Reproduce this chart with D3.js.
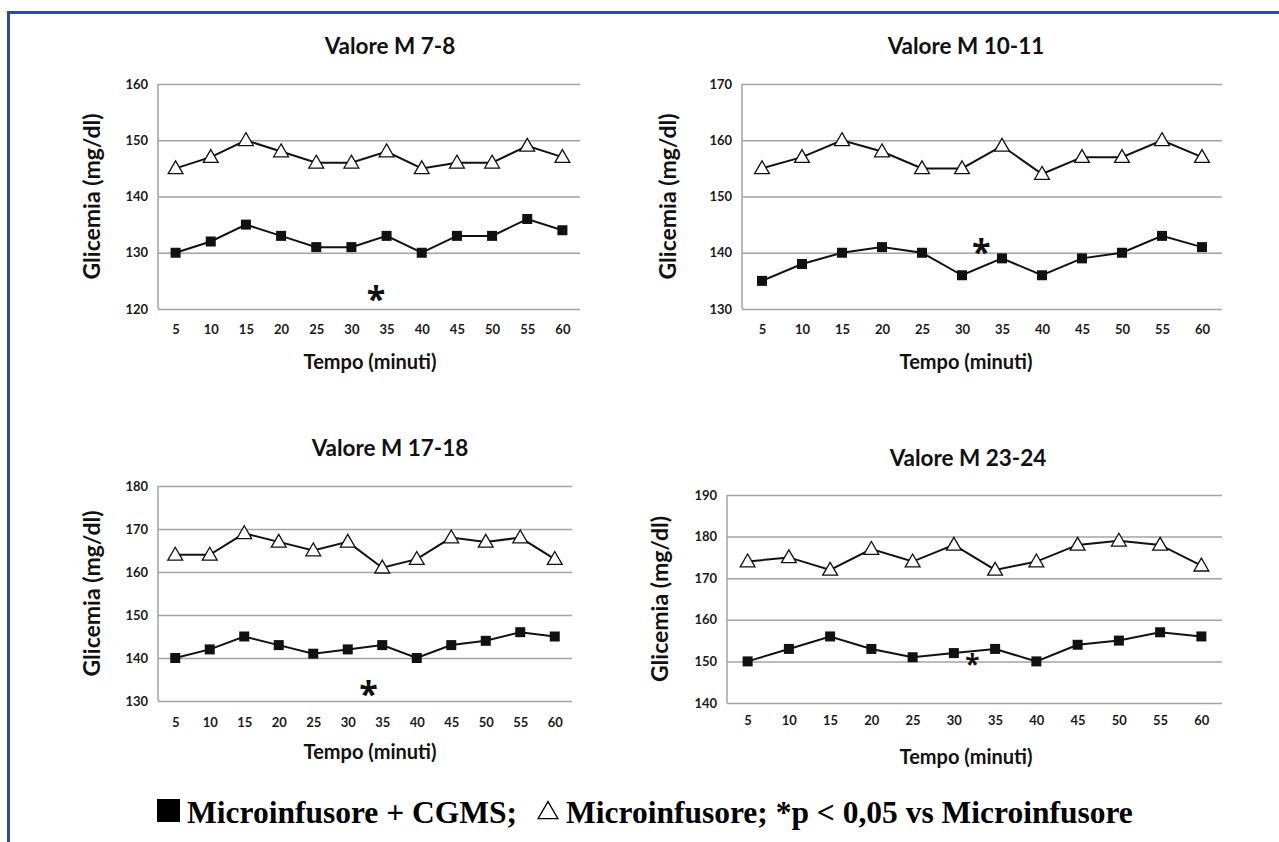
<!DOCTYPE html>
<html>
<head>
<meta charset="utf-8">
<script src="https://cdn.jsdelivr.net/npm/d3@7"></script>
<style>
  html, body { margin: 0; padding: 0; background: #fff; }
  svg { display: block; }
</style>
</head>
<body>
<svg id="chart" width="1279" height="842"></svg>
<script>
// ---------- data ----------
const times = [5, 10, 15, 20, 25, 30, 35, 40, 45, 50, 55, 60];
const panelTitles = ["Valore M 7-8", "Valore M 10-11", "Valore M 17-18", "Valore M 23-24"];
const cgmsM7_8   = [130, 132, 135, 133, 131, 131, 133, 130, 133, 133, 136, 134];
const microM7_8  = [145, 147, 150, 148, 146, 146, 148, 145, 146, 146, 149, 147];
const cgmsM10_11  = [135, 138, 140, 141, 140, 136, 139, 136, 139, 140, 143, 141];
const microM10_11 = [155, 157, 160, 158, 155, 155, 159, 154, 157, 157, 160, 157];
const cgmsM17_18  = [140, 142, 145, 143, 141, 142, 143, 140, 143, 144, 146, 145];
const microM17_18 = [164, 164, 169, 167, 165, 167, 161, 163, 168, 167, 168, 163];
const cgmsM23_24  = [150, 153, 156, 153, 151, 152, 153, 150, 154, 155, 157, 156];
const microM23_24 = [174, 175, 172, 177, 174, 178, 172, 174, 178, 179, 178, 173];
const yDomains = [[120, 160], [130, 170], [130, 180], [140, 190]];
const yTicks = [[120, 130, 140, 150, 160], [130, 140, 150, 160, 170],
                [130, 140, 150, 160, 170, 180], [140, 150, 160, 170, 180, 190]];
// significance marker: position along time index (fractional) and value
const starIndex = [5.7, 5.48, 5.6, 5.45];
const starValue = [123.0, 141.3, 133.3, 150.4];
const xTitle = "Tempo (minuti)";
const yTitle = "Glicemia (mg/dl)";
const legendA = "Microinfusore + CGMS;";
const legendB = "Microinfusore; *p < 0,05 vs Microinfusore";

const cgmsSeries = [cgmsM7_8, cgmsM10_11, cgmsM17_18, cgmsM23_24];
const microSeries = [microM7_8, microM10_11, microM17_18, microM23_24];

// ---------- layout ----------
const layouts = [
  { left: 158, right: 580, top: 84, bottom: 309, titleX: 390, titleY: 54, xTitleX: 370, xTitleY: 369, yTitleX: 92, tickY: 334, starSize: 34 },
  { left: 742, right: 1222, top: 84, bottom: 309, titleX: 966, titleY: 54, xTitleX: 966, xTitleY: 369, yTitleX: 668, tickY: 334, starSize: 34 },
  { left: 158, right: 572, top: 486, bottom: 701, titleX: 390, titleY: 456, xTitleX: 370, xTitleY: 759, yTitleX: 92, tickY: 727, starSize: 34 },
  { left: 727, right: 1222, top: 495, bottom: 703, titleX: 968, titleY: 466, xTitleX: 966, xTitleY: 764, yTitleX: 660, tickY: 725, starSize: 26 }
];

const svg = d3.select("#chart");
svg.append("rect").attr("width", 1279).attr("height", 842).attr("fill", "#fff");

// frame
svg.append("line").attr("x1", 7).attr("x2", 1279).attr("y1", 12.5).attr("y2", 12.5)
  .attr("stroke", "#2d4a9b").attr("stroke-width", 3);
svg.append("line").attr("x1", 8.5).attr("x2", 8.5).attr("y1", 11).attr("y2", 842)
  .attr("stroke", "#2d4a9b").attr("stroke-width", 3);

const sansBold = "Lato, 'Open Sans', sans-serif";

layouts.forEach((L, i) => {
  const g = svg.append("g");
  const x = d3.scaleLinear().domain([-0.5, times.length - 0.5]).range([L.left, L.right]);
  const y = d3.scaleLinear().domain(yDomains[i]).range([L.bottom, L.top]);

  // gridlines
  const yAxis = d3.axisLeft(y).tickValues(yTicks[i]).tickSize(-(L.right - L.left)).tickPadding(8);
  const ya = g.append("g").attr("transform", `translate(${L.left},0)`).call(yAxis);
  ya.select(".domain").attr("stroke", "#a3a3a3").attr("stroke-width", 1.5).attr("d", `M0,${L.top}V${L.bottom}`);
  ya.selectAll(".tick line").attr("stroke", "#a3a3a3").attr("stroke-width", 1.5);
  ya.selectAll(".tick text").attr("font-family", sansBold).attr("font-weight", "bold")
    .attr("font-size", 13).attr("fill", "#1a1a1a").attr("x", -10);

  // x tick labels
  const xAxis = d3.axisBottom(x).tickValues(d3.range(times.length)).tickFormat(k => times[k]).tickSize(0).tickPadding(0);
  const xa = g.append("g").attr("transform", `translate(0,${L.tickY - 9})`).call(xAxis);
  xa.select(".domain").remove();
  xa.selectAll(".tick text").attr("font-family", sansBold).attr("font-weight", "bold")
    .attr("font-size", 13).attr("fill", "#1a1a1a").attr("dy", "0.71em");

  // lines
  const line = d3.line().x((d, k) => x(k)).y(d => y(d));
  [microSeries[i], cgmsSeries[i]].forEach(s => {
    g.append("path").datum(s).attr("d", line).attr("fill", "none")
      .attr("stroke", "#111").attr("stroke-width", 2);
  });

  // markers
  g.selectAll(".sq").data(cgmsSeries[i]).join("rect")
    .attr("x", (d, k) => x(k) - 5).attr("y", d => y(d) - 5)
    .attr("width", 10).attr("height", 10).attr("fill", "#111");
  const tri = d3.symbol().type(d3.symbolTriangle).size(95);
  g.selectAll(".tri").data(microSeries[i]).join("path")
    .attr("d", tri).attr("transform", (d, k) => `translate(${x(k)},${y(d) + 1})`)
    .attr("fill", "#fff").attr("stroke", "#111").attr("stroke-width", 1.3);

  // significance star
  g.append("text").attr("x", x(starIndex[i])).attr("y", y(starValue[i]) + L.starSize * 0.55)
    .attr("text-anchor", "middle").attr("font-family", "'Open Sans', sans-serif").attr("font-weight", "bold")
    .attr("font-size", L.starSize).attr("fill", "#111").text("*");

  // titles
  g.append("text").attr("x", L.titleX).attr("y", L.titleY).attr("text-anchor", "middle")
    .attr("font-family", sansBold).attr("font-weight", "bold").attr("font-size", 22.5)
    .attr("fill", "#111").text(panelTitles[i]);
  g.append("text").attr("x", L.xTitleX).attr("y", L.xTitleY).attr("text-anchor", "middle")
    .attr("font-family", sansBold).attr("font-weight", "bold").attr("font-size", 20)
    .attr("fill", "#111").text(xTitle);
  g.append("text").attr("transform", `translate(${L.yTitleX},${(L.top + L.bottom) / 2}) rotate(-90)`)
    .attr("text-anchor", "middle").attr("dy", "0.35em")
    .attr("font-family", sansBold).attr("font-weight", "bold").attr("font-size", 23)
    .attr("fill", "#111").text(yTitle);
});

// legend
const serif = "'Liberation Serif', 'Times New Roman', serif";
const lg = svg.append("g");
lg.append("rect").attr("x", 157).attr("y", 799).attr("width", 23).attr("height", 23).attr("fill", "#000");
lg.append("text").attr("x", 187).attr("y", 823).attr("font-family", serif)
  .attr("font-weight", "bold").attr("font-size", 31.5).attr("fill", "#000").text(legendA);
lg.append("path").attr("d", d3.symbol().type(d3.symbolTriangle).size(170))
  .attr("transform", "translate(548,813)").attr("fill", "none").attr("stroke", "#000").attr("stroke-width", 1.3);
lg.append("text").attr("x", 566).attr("y", 823).attr("font-family", serif)
  .attr("font-weight", "bold").attr("font-size", 31.5).attr("fill", "#000").text(legendB);
</script>
</body>
</html>
